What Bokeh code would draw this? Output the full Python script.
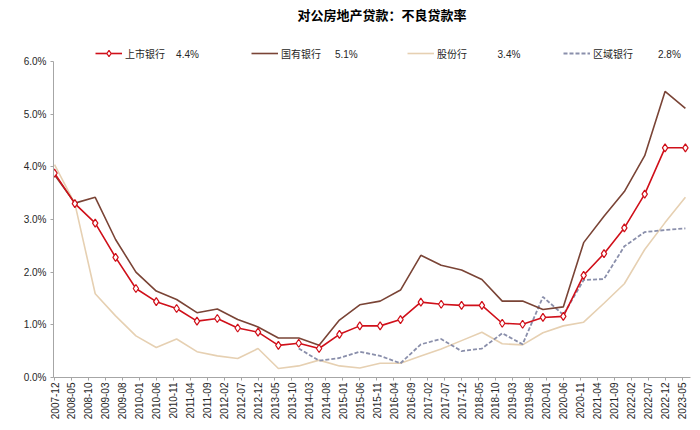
import math

from bokeh.plotting import figure
from bokeh.models import (ColumnDataSource, FixedTicker, PrintfTickFormatter, Legend, LegendItem,
                          Title)
from bokeh.embed import file_html
from bokeh.resources import INLINE

# half-year observations
dates = ["2007-12", "2008-06", "2008-12", "2009-06", "2009-12", "2010-06", "2010-12", "2011-06",
         "2011-12", "2012-06", "2012-12", "2013-06", "2013-12", "2014-06", "2014-12", "2015-06",
         "2015-12", "2016-06", "2016-12", "2017-06", "2017-12", "2018-06", "2018-12", "2019-06",
         "2019-12", "2020-06", "2020-12", "2021-06", "2021-12", "2022-06", "2022-12", "2023-06"]

# 上市银行
listed = [3.88, 3.30, 2.93, 2.28, 1.69, 1.44, 1.31, 1.07, 1.12, 0.94, 0.86, 0.61, 0.65, 0.55, 0.82, 0.98,
          0.98, 1.10, 1.43, 1.39, 1.37, 1.37, 1.03, 1.01, 1.14, 1.16, 1.94, 2.35, 2.84, 3.48, 4.36, 4.36]
# 国有银行
state = [3.85, 3.31, 3.42, 2.62, 2.00, 1.64, 1.48, 1.23, 1.30, 1.10, 0.96, 0.75, 0.75, 0.61, 1.09, 1.38,
         1.45, 1.66, 2.32, 2.13, 2.04, 1.86, 1.45, 1.45, 1.29, 1.34, 2.56, 3.06, 3.53, 4.21, 5.43, 5.11]
# 股份行
joint = [4.04, 3.30, 1.59, 1.17, 0.79, 0.57, 0.73, 0.49, 0.41, 0.36, 0.55, 0.17, 0.22, 0.33, 0.22, 0.18,
         0.27, 0.27, 0.41, 0.54, 0.70, 0.86, 0.64, 0.62, 0.85, 0.98, 1.05, 1.41, 1.78, 2.43, 2.94, 3.42]
# 区域银行 (no data before 2013-12)
nan = float("nan")
regional = [nan] * 12 + [0.55, 0.32, 0.37, 0.49, 0.41, 0.27, 0.63, 0.73, 0.50, 0.55,
                         0.84, 0.63, 1.53, 1.19, 1.85, 1.87, 2.49, 2.76, 2.80, 2.83]

tick_labels = ["2007-12", "2008-05", "2008-10", "2009-03", "2009-08", "2010-01", "2010-06", "2010-11",
               "2011-04", "2011-09", "2012-02", "2012-07", "2012-12", "2013-05", "2013-10", "2014-03",
               "2014-08", "2015-01", "2015-06", "2015-11", "2016-04", "2016-09", "2017-02", "2017-07",
               "2017-12", "2018-05", "2018-10", "2019-03", "2019-08", "2020-01", "2020-06", "2020-11",
               "2021-04", "2021-09", "2022-02", "2022-07", "2022-12", "2023-05"]
y_ticks = [0, 1, 2, 3, 4, 5, 6]


def month_index(s):
    y, m = s.split("-")
    return (int(y) - 2007) * 12 + int(m) - 12


x = [month_index(d) for d in dates]
tick_pos = [month_index(t) for t in tick_labels]

source = ColumnDataSource(dict(x=x, listed=listed, state=state, joint=joint, regional=regional))

NUM_FONT = "Liberation Sans"
CJK_FONT = "Noto Sans CJK SC"

p = figure(frame_width=637, frame_height=334, x_range=(-0.3, 187.5), y_range=(0, 6.34),
           output_backend="svg", toolbar_location=None,
           min_border_left=53, min_border_right=2, min_border_top=43, min_border_bottom=44)
p.outline_line_color = None
p.xgrid.visible = False
p.ygrid.visible = False
p.background_fill_color = "white"

# empty spacer between frame and title, then the title itself
p.add_layout(Title(text="\u00a0", text_font_size="1px", standoff=15), "above")
p.add_layout(Title(text="对公房地产贷款：不良贷款率", align="left", offset=244,
                   text_font=CJK_FONT, text_font_size="13px", text_font_style="bold",
                   text_color="#000000", standoff=4), "above")

r_joint = p.line("x", "joint", source=source, color="#E6D0B2", line_width=1.6)
r_reg = p.line("x", "regional", source=source, color="#8A8FAB", line_width=1.8, line_dash="4 2")
r_state = p.line("x", "state", source=source, color="#7A4436", line_width=1.6)
r_listed = p.line("x", "listed", source=source, color="#D0101A", line_width=1.6)
r_mark = p.scatter("x", "listed", source=source, marker="diamond", size=8,
                   fill_color="white", line_color="#D0101A", line_width=1.2)

# y axis
p.yaxis.ticker = FixedTicker(ticks=y_ticks)
p.yaxis.formatter = PrintfTickFormatter(format="%.1f%%")
p.yaxis.bounds = (0, 6)
p.yaxis.minor_tick_line_color = None
p.yaxis.major_tick_in = 0
p.yaxis.major_tick_out = 3
p.yaxis.axis_line_color = "#A6A6A6"
p.yaxis.major_tick_line_color = "#A6A6A6"
p.yaxis.major_label_text_font = NUM_FONT
p.yaxis.major_label_text_font_size = "10px"
p.yaxis.major_label_text_color = "#262626"
p.yaxis.major_label_standoff = 4

# x axis
p.xaxis.ticker = FixedTicker(ticks=tick_pos)
p.xaxis.major_label_overrides = {pos: lab for pos, lab in zip(tick_pos, tick_labels)}
p.xaxis.major_label_orientation = math.pi / 2
p.xaxis.minor_tick_line_color = None
p.xaxis.major_tick_in = 0
p.xaxis.major_tick_out = 3
p.xaxis.axis_line_color = "#A6A6A6"
p.xaxis.major_tick_line_color = "#A6A6A6"
p.xaxis.major_label_text_font = NUM_FONT
p.xaxis.major_label_text_font_size = "10px"
p.xaxis.major_label_text_color = "#262626"
p.xaxis.major_label_standoff = 2

nb = "\u00a0"
items = [
    LegendItem(label="上市银行" + nb * 4 + f"{listed[-1]:.1f}%", renderers=[r_listed, r_mark]),
    LegendItem(label="国有银行" + nb * 5 + f"{state[-1]:.1f}%", renderers=[r_state]),
    LegendItem(label="股份行" + nb * 11 + f"{joint[-1]:.1f}%", renderers=[r_joint]),
    LegendItem(label="区域银行" + nb * 9 + f"{regional[-1]:.1f}%", renderers=[r_reg]),
]
legend = Legend(items=items, orientation="horizontal", location=(42, 316),
                glyph_width=27, glyph_height=16, label_height=16, label_standoff=3,
                label_width=116, spacing=10, padding=0, margin=0,
                border_line_alpha=0, background_fill_alpha=0,
                label_text_font=NUM_FONT + ", " + CJK_FONT, label_text_font_size="10px",
                label_text_color="#262626")
p.add_layout(legend)

open("out.html", "w").write(file_html(p, INLINE))
